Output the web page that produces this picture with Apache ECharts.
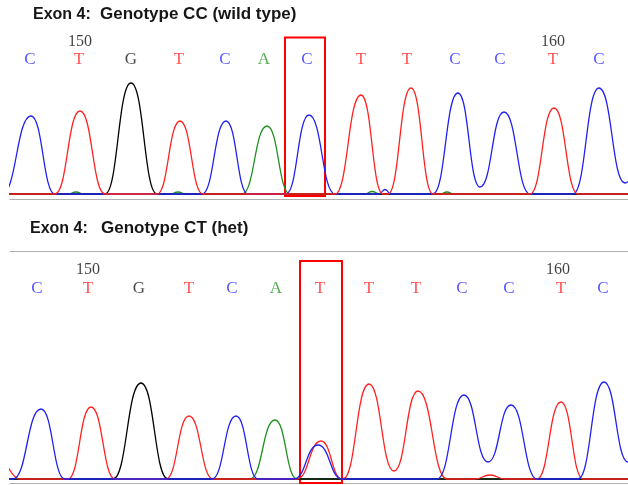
<!DOCTYPE html>
<html>
<head>
<meta charset="utf-8">
<script src="https://cdn.jsdelivr.net/npm/echarts@6/dist/echarts.min.js"></script>
<style>
html,body{margin:0;padding:0;background:#fff;}
#c{width:628px;height:485px;}
</style>
</head>
<body>
<div id="c"></div>
<script>
// ---------- Panel titles ----------
var exonLabel = 'Exon 4:';
var topGenotype = 'Genotype CC (wild type)';
var botGenotype = 'Genotype CT (het)';

// ---------- Base calls (letters) and their scan positions ----------
var topBases   = ['C','T','G','T','C','A','C','T','T','C','C','T','C'];
var topCallPos = [20, 69, 121, 169, 215, 254, 297, 351, 397, 445, 490, 543, 589];
var botBases   = ['C','T','G','T','C','A','T','T','T','C','C','T','C'];
var botCallPos = [27, 78, 129, 179, 222, 266, 310, 359, 406, 452, 499, 551, 593];

// ---------- Base numbering tick labels ----------
var tickLabels = ['150', '160'];
var topTickPos = [70, 543];
var botTickPos = [78, 548];

// ---------- Highlighted base (red box) [x0, x1, y0, y1] in data units ----------
var topBox = [275, 315, -20, 1565];
var botBox = [290, 332, -40, 2180];

// ---------- Chromatogram traces: [scan position, signal] ----------
var topBlue  = [[-30,0],[-8,0],[21,780],[45,0],[192,0],[216,730],[238,0],[276,0],[299,790],[325,0],[369,0],[375,45],[381,0],[423,0],[448,1010],[470,70],[494,820],[520,0],[563,0],[589,1060],[615,110],[640,800]];
var topRed   = [[-30,0],[45,0],[70,830],[95,0],[147,0],[170,730],[193,0],[325,0],[351,990],[373,0],[378,0],[401,1060],[423,0],[520,0],[544,860],[568,0],[640,0]];
var topBlack = [[-30,0],[95,0],[121,1110],[147,0],[640,0]];
var topGreen = [[-30,0],[58,0],[66,20],[74,0],[160,0],[168,20],[176,0],[232,0],[257,680],[280,0],[355,0],[362,25],[370,0],[430,0],[437,20],[444,0],[640,0]];

var botBlue  = [[-30,0],[3,0],[31,700],[55,0],[202,0],[226,630],[248,0],[284,0],[308,340],[332,0],[427,0],[454,840],[478,170],[501,740],[527,0],[568,0],[594,970],[618,170],[645,0]];
var botRed   = [[-16,500],[10,0],[58,0],[81,720],[105,0],[156,0],[179,630],[203,0],[287,0],[311,380],[332,0],[333,0],[359,950],[384,80],[408,880],[437,0],[465,0],[480,40],[495,0],[527,0],[551,770],[573,0],[612,0],[625,0],[640,100]];
var botBlack = [[-30,0],[103,0],[131,960],[158,0],[640,0]];
var botGreen = [[-30,0],[240,0],[265,590],[287,0],[640,0]];

// ---------- styles ----------
var baseColor = {C:'#2b2bff', T:'#ff2424', G:'#1a1a1a', A:'#2a9a2a'};
var traceColor = {blue:'#2020f0', red:'#ff2020', black:'#000000', green:'#1f8f1f'};
var TOP_LETTER_Y = 1340, TOP_NUM_Y = 1520;
var BOT_LETTER_Y = 1900, BOT_NUM_Y = 2095;

function traceSeries(data, color, xi, yi) {
  return {
    type: 'line', data: data, xAxisIndex: xi, yAxisIndex: yi,
    smooth: 0.5, smoothMonotone: 'x', showSymbol: false, symbol: 'none',
    lineStyle: {color: color, width: 1.3}, silent: true, animation: false, clip: true, z: 2
  };
}
function letterSeries(bases, pos, rowY, nums, numPos, numY, box, xi, yi) {
  var data = bases.map(function (b, i) {
    return {name: b, value: [pos[i], rowY],
      label: {color: baseColor[b], fontSize: 17, fontFamily: 'Liberation Serif, Times New Roman, serif'}};
  });
  nums.forEach(function (t, i) {
    data.push({name: t, value: [numPos[i], numY],
      label: {color: '#111', fontSize: 16, fontFamily: 'Liberation Serif, Times New Roman, serif'}});
  });
  return {
    type: 'scatter', xAxisIndex: xi, yAxisIndex: yi, data: data,
    symbol: 'circle', symbolSize: 1, itemStyle: {color: 'rgba(0,0,0,0)'},
    label: {show: true, position: 'inside', formatter: '{b}'},
    silent: true, animation: false, clip: false, z: 5,
    markArea: {
      silent: true,
      itemStyle: {color: 'rgba(0,0,0,0)', borderColor: '#ff0000', borderWidth: 2},
      data: [[{coord: [box[0], box[2]]}, {coord: [box[1], box[3]]}]]
    }
  };
}

var titleStyle = {fontFamily: 'Liberation Sans, Arial, sans-serif', fontWeight: 'bold', color: '#161616'};
function ts(size) { return Object.assign({fontSize: size}, titleStyle); }

var hiddenX = function (gi, pos, show) {
  return {type: 'value', gridIndex: gi, min: 0, max: 618, position: pos,
    axisLine: {show: show, onZero: false, lineStyle: {color: '#b0b0b0', width: 1}},
    axisTick: {show: false}, axisLabel: {show: false}, splitLine: {show: false}};
};

var chart = echarts.init(document.getElementById('c'), null, {renderer: 'canvas'});
chart.setOption({
  backgroundColor: '#ffffff',
  animation: false,
  title: [
    {text: exonLabel, left: 33, top: 7, padding: 0, textStyle: ts(16)},
    {text: topGenotype, left: 100, top: 6, padding: 0, textStyle: ts(17)},
    {text: exonLabel, left: 30, top: 221, padding: 0, textStyle: ts(16)},
    {text: botGenotype, left: 101, top: 220, padding: 0, textStyle: ts(17)}
  ],
  grid: [
    {left: 10, right: 0, top: 34, height: 165},
    {left: 10, right: 0, top: 251, height: 232}
  ],
  xAxis: [hiddenX(0, 'bottom', true), hiddenX(1, 'bottom', true), hiddenX(1, 'top', true)],
  yAxis: [
    {type: 'value', gridIndex: 0, min: -50, max: 1600, show: false},
    {type: 'value', gridIndex: 1, min: -40, max: 2280, show: false}
  ],
  series: [
    traceSeries(topGreen, traceColor.green, 0, 0),
    traceSeries(topBlack, traceColor.black, 0, 0),
    traceSeries(topBlue, traceColor.blue, 0, 0),
    traceSeries(topRed, traceColor.red, 0, 0),
    letterSeries(topBases, topCallPos, TOP_LETTER_Y, tickLabels, topTickPos, TOP_NUM_Y, topBox, 0, 0),
    traceSeries(botGreen, traceColor.green, 1, 1),
    traceSeries(botBlack, traceColor.black, 1, 1),
    traceSeries(botRed, traceColor.red, 1, 1),
    traceSeries(botBlue, traceColor.blue, 1, 1),
    letterSeries(botBases, botCallPos, BOT_LETTER_Y, tickLabels, botTickPos, BOT_NUM_Y, botBox, 1, 1)
  ]
});
</script>
</body>
</html>
